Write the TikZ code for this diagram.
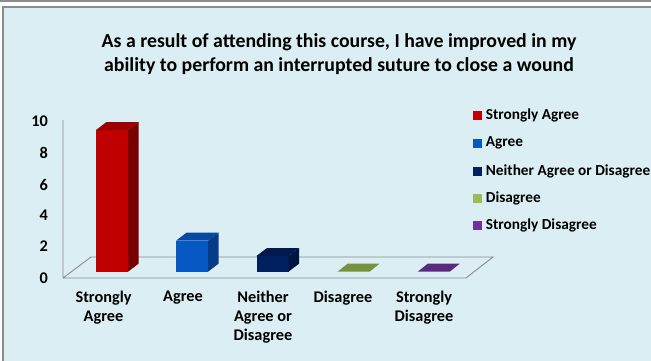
\documentclass[tikz,border=0pt]{standalone}
\usepackage{fontspec}
\setmainfont{Carlito}
\definecolor{bgblue}{HTML}{DBEEF4}
\definecolor{framegray}{HTML}{8C8C8C}
\definecolor{axisgray}{HTML}{8A8A8A}
\definecolor{redF}{HTML}{C00000}\definecolor{redT}{HTML}{9C0000}\definecolor{redS}{HTML}{780000}
\definecolor{bluF}{HTML}{0757C4}\definecolor{bluT}{HTML}{0848A2}\definecolor{bluS}{HTML}{063C86}
\definecolor{navF}{HTML}{002060}\definecolor{navT}{HTML}{001A50}\definecolor{navS}{HTML}{00153F}
\definecolor{grnT}{HTML}{76923C}\definecolor{grnL}{HTML}{9BBB59}
\definecolor{purT}{HTML}{5B2A7F}\definecolor{purL}{HTML}{7030A0}
\begin{document}
\begin{tikzpicture}[x=1pt,y=-1pt,
  txt/.style={font=\fontsize{16.3}{19}\selectfont\bfseries, inner sep=0pt, text=black},
  cat/.style={txt, align=center, anchor=north},
  tick/.style={txt, anchor=east},
  legtxt/.style={font=\fontsize{15.3}{17}\selectfont\bfseries, inner sep=0pt, anchor=west, text=black},
  legbox/.style={minimum width=9pt, minimum height=9pt, inner sep=0pt, anchor=center},
  axisline/.style={draw=axisgray, line width=0.9pt}]
\useasboundingbox (0,0) rectangle (651,360);
% frame
\fill[white] (0,0) rectangle (651,360);
\draw[framegray, line width=1.6pt] (0,0.8) -- (651,0.8);
\fill[bgblue] (3,7) rectangle (660,370);
\draw[framegray, line width=1.8pt] (3,372) -- (3,7) -- (660,7);
% title
\node[font=\fontsize{19.8}{24}\selectfont\bfseries, align=center, text=black] (title) at (339,54)
  {As a result of attending this course, I have improved in my\\ability to perform an interrupted suture to close a wound};
% axes and floor
\coordinate (o) at (63,278);
\coordinate (ytop) at (63,120);
\coordinate (fr) at (466,278);
\coordinate (br) at (493,257);
\coordinate (bl) at (91,257);
\draw[axisline] (ytop) -- (o) -- (fr) -- (br) -- (bl) -- (o);
% tick labels
\foreach \v/\yy in {0/278,2/246.5,4/215.5,6/184.5,8/153,10/121.7}
  \node[tick] (t\v) at (48,\yy) {\v};
% bars
\def\dx{10.5}\def\dy{-8}
\newcommand{\mybar}[5]{% x, height, front, top, side
  \fill[#3] (#1,271.7) rectangle (#1+32,271.7-#2);
  \fill[#5] (#1+32,271.7) -- (#1+32+\dx,271.7+\dy) -- (#1+32+\dx,271.7-#2+\dy) -- (#1+32,271.7-#2) -- cycle;
  \fill[#4] (#1,271.7-#2) -- (#1+\dx,271.7-#2+\dy) -- (#1+32+\dx,271.7-#2+\dy) -- (#1+32,271.7-#2) -- cycle;
}
\mybar{96}{141.7}{redF}{redT}{redS}
\mybar{176}{31}{bluF}{bluT}{bluS}
\mybar{256.5}{15.7}{navF}{navT}{navS}
\fill[grnT] (337.5,271.7) -- (347.5,263.7) -- (379.5,263.7) -- (369.5,271.7) -- cycle;
\fill[purT] (417.7,271.7) -- (427.7,263.7) -- (459.7,263.7) -- (449.7,271.7) -- cycle;
% category labels
\node[cat] (c1) at (103.5,291) {Strongly\\Agree};
\node[cat] (c2) at (183,291) {Agree};
\node[cat] (c3) at (263,291) {Neither\\Agree or\\Disagree};
\node[cat] (c4) at (343,291) {Disagree};
\node[cat] (c5) at (424,291) {Strongly\\Disagree};
% legend
\foreach \i/\c/\t/\yy in {1/redF/Strongly Agree/115.7,2/bluF/Agree/143.3,3/navF/Neither Agree or Disagree/171,4/grnL/Disagree/198.3,5/purL/Strongly Disagree/225.7}{
  \node[legbox, fill=\c] (lb\i) at (477.2,\yy) {};
  \node[legtxt] (lt\i) at (485.7,\yy) {\t};
}
\end{tikzpicture}
\end{document}
